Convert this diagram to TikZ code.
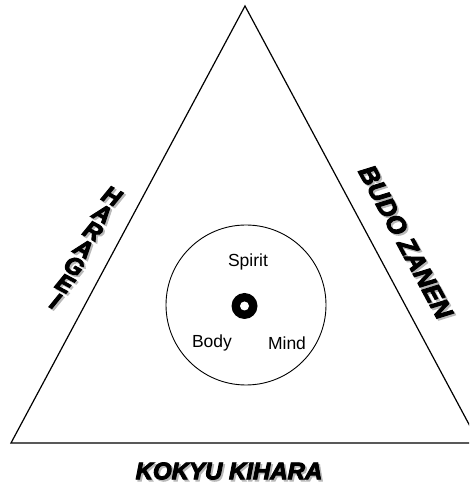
\documentclass[tikz,border=0pt]{standalone}
\usepackage{fontspec}
\setmainfont{Liberation Sans}
\newfontfamily\heavyfont[FakeBold=4]{Liberation Sans Bold Italic}
\usetikzlibrary{calc}

\begin{document}
\begin{tikzpicture}[
    x=1pt, y=1pt,
    % Text styles
    label/.style={font=\fontsize{17.5}{20}\selectfont, inner sep=0pt},
    banner/.style={font=\heavyfont\fontsize{24}{28}\selectfont, inner sep=0pt},
    shadow/.style={banner, text=gray!55},
    % Line styles
    edge/.style={line width=1.2pt, line join=miter},
]

% Frame
\useasboundingbox (0,0) rectangle (469,489);
\clip (0,0) rectangle (469,489);

% Triangle
\coordinate (apex) at (245,483);
\coordinate (left) at (11,46);
\coordinate (right) at (479,46);
\draw [edge] (apex) -- (left) -- (right) -- cycle;

% Inner circle and centre mark
\node (ring) [circle, draw, line width=0.9pt, minimum size=160pt] at (246,184) {};
\node (core) [circle, fill=black, minimum size=26pt, inner sep=0pt] at (244.5,183) {};
\node (hole) [circle, fill=white, minimum size=9pt, inner sep=0pt] at (core) {};

% Labels inside the circle
\node (spirit) [label] at (248,227) {Spirit};
\node (body) [label] at (212,146) {Body};
\node (mind) [label] at (287,146) {Mind};

% Left side - stacked letters
\coordinate (hstart) at (111.7,293);
\foreach \ch [count=\i from 0] in {H,A,R,A,G,E,I} {
    \node (hs\i) [shadow, rotate=-28.2] at ($(hstart)+(\i*-9.4+1.8,\i*-17.5-1.8)$) {\ch};
    \node (h\i) [banner, rotate=-28.2] at ($(hstart)+(\i*-9.4,\i*-17.5)$) {\ch};
}

% Right side
\node (budo-s) [shadow, font=\heavyfont\fontsize{25.5}{28}\selectfont, rotate=-61.8] at (407.5,245.2) {BUDO ZANEN};
\node (budo) [banner, font=\heavyfont\fontsize{25.5}{28}\selectfont, rotate=-61.8] at (405.7,247) {BUDO ZANEN};

% Bottom
\node (kokyu-s) [shadow] at (230.8,16.2) {KOKYU KIHARA};
\node (kokyu) [banner] at (229,18) {KOKYU KIHARA};

\end{tikzpicture}
\end{document}
